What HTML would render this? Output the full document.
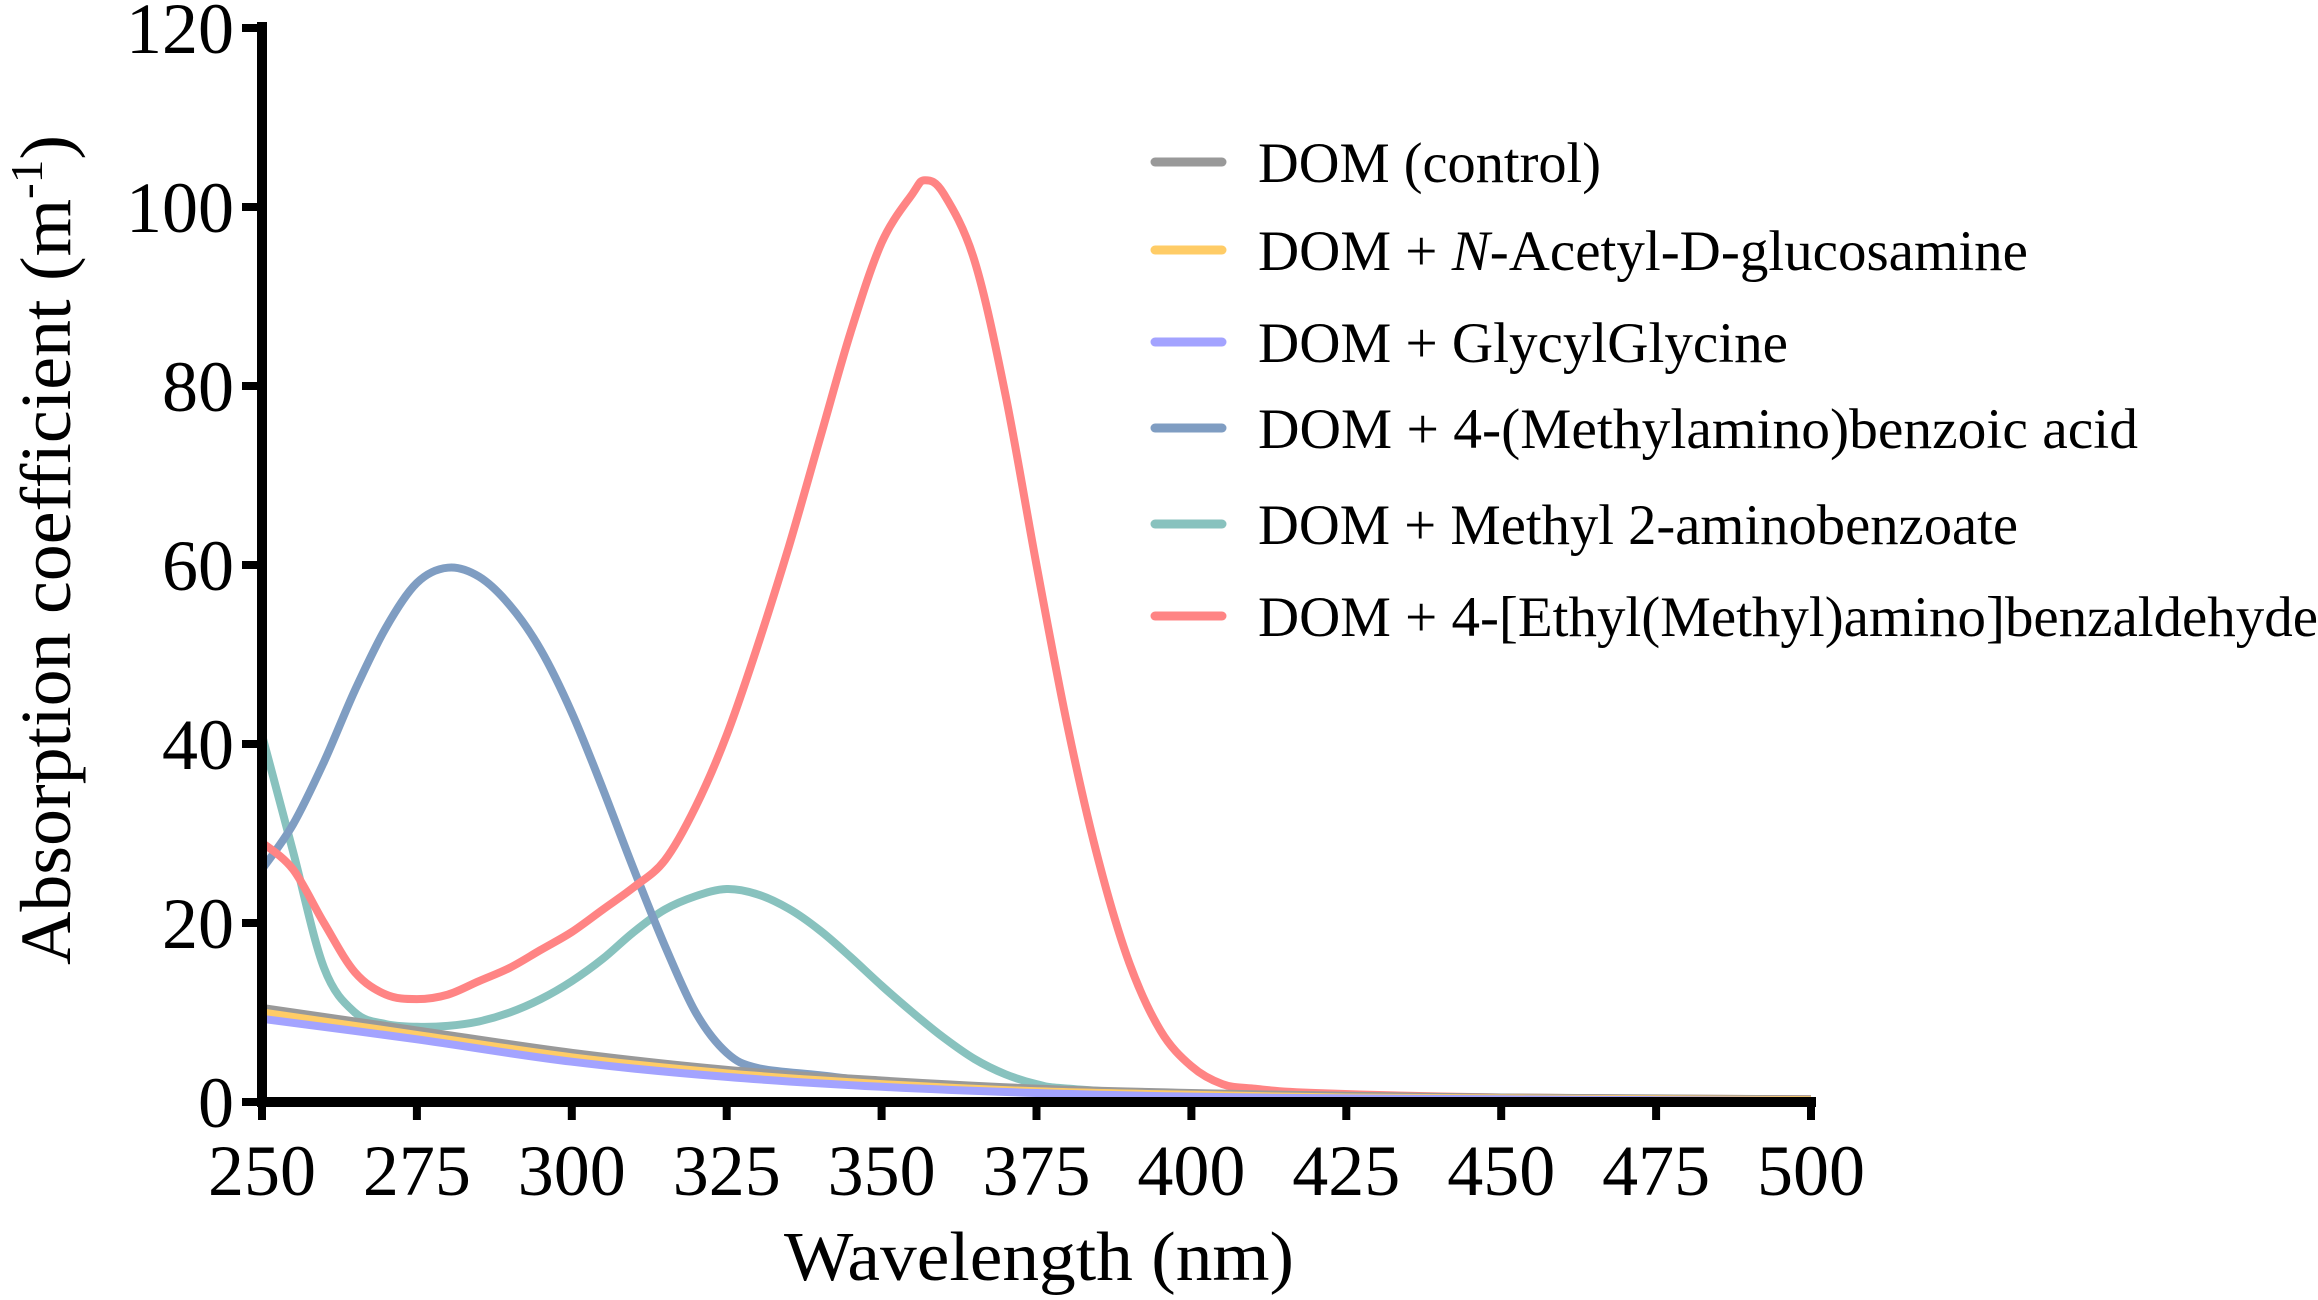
<!DOCTYPE html>
<html><head><meta charset="utf-8"><style>
html,body{margin:0;padding:0;background:#fff;}
svg{display:block;font-family:"Liberation Serif","Times New Roman",serif;}
</style></head><body>
<svg id="chart" width="2318" height="1300" viewBox="0 0 2318 1300" xmlns="http://www.w3.org/2000/svg">
<g id="series"></g>
<g id="axes"></g>
<g id="legend"></g>
</svg>
<script>
const xTicks=[250,275,300,325,350,375,400,425,450,475,500];
const yTicks=[0,20,40,60,80,100,120];
const seriesNames=["DOM (control)","DOM + N-Acetyl-D-glucosamine","DOM + GlycylGlycine","DOM + 4-(Methylamino)benzoic acid","DOM + Methyl 2-aminobenzoate","DOM + 4-[Ethyl(Methyl)amino]benzaldehyde"];
const seriesColors=["#999999","#FFCC66","#A3A3FF","#7F9DC2","#88C2BE","#FF8484"];
const wlControl=[250,275,300,325,350,375,400,425,450,475,500];
const valControl=[10.5,8,5.5,3.6,2.4,1.5,1.0,0.7,0.5,0.4,0.3];
const wlNag=[250,275,300,325,350,375,400,425,450,475,500];
const valNag=[10,7.5,5,3.2,2.0,1.2,0.8,0.5,0.4,0.3,0.2];
const wlGly=[250,275,300,325,350,375,400,425,450,475,500];
const valGly=[9.3,7,4.5,2.8,1.7,1.0,0.6,0.4,0.3,0.2,0.1];
const wlMab=[250,255,260,265,270,275,280,285,290,295,300,305,310,315,320,325,330,340,350,375,400,450,500];
const valMab=[26,31,38,46,53,58,59.7,58.7,55.5,50.5,43.5,35,26,17.5,10,5.5,3.8,3,2.3,1.3,0.8,0.4,0.2];
const wlMaz=[250,255,260,265,270,275,280,285,290,295,300,305,310,315,320,325,330,335,340,345,350,355,360,365,370,375,380,400,450,500];
const valMaz=[41,28,15,10,8.7,8.4,8.5,9,10,11.5,13.5,16,19,21.5,23,23.8,23.2,21.6,19.2,16.2,13,10,7.2,4.8,3.1,2,1.5,0.8,0.4,0.2];
const wlEma=[250,255,260,265,270,275,280,285,290,295,300,305,310,315,320,325,330,335,340,345,350,355,357,360,365,370,375,380,385,390,395,400,405,410,420,450,500];
const valEma=[29,26,20,14.5,12,11.5,12,13.5,15,17,19,21.5,24,27,33,41,51,62,74,86,96,101.5,103,101.5,94,79,60,42,27,15.5,8,4,2,1.5,1,0.5,0.3];
const allWl=[wlControl,wlNag,wlGly,wlMab,wlMaz,wlEma];
const allVal=[valControl,valNag,valGly,valMab,valMaz,valEma];
const seriesKeys=["control","nag","glycylglycine","methylaminobenzoic","methylaminobenzoate","ethylmethylaminobenzaldehyde"];

const X0=262,X1=1811,Y0=1102,Y1=28;
function sx(v){return X0+(v-250)/(500-250)*(X1-X0);}
function sy(v){return Y0-(v/120)*(Y0-Y1);}
const NS="http://www.w3.org/2000/svg";
function mk(tag,parent){const e=document.createElementNS(NS,tag);parent.appendChild(e);return e;}
function smooth(pts){
  let d="M"+pts[0][0].toFixed(1)+","+pts[0][1].toFixed(1);
  for(let i=0;i<pts.length-1;i++){
    const p0=pts[Math.max(0,i-1)],p1=pts[i],p2=pts[i+1],p3=pts[Math.min(pts.length-1,i+2)];
    const c1x=p1[0]+(p2[0]-p0[0])/6,c1y=p1[1]+(p2[1]-p0[1])/6;
    const c2x=p2[0]-(p3[0]-p1[0])/6,c2y=p2[1]-(p3[1]-p1[1])/6;
    d+=" C"+c1x.toFixed(1)+","+c1y.toFixed(1)+" "+c2x.toFixed(1)+","+c2y.toFixed(1)+" "+p2[0].toFixed(1)+","+p2[1].toFixed(1);
  }
  return d;
}
const sg=document.getElementById('series');
const order=[4,3,5,0,1,2];
order.forEach(i=>{
  const pts=allWl[i].map((w,k)=>[sx(w),sy(allVal[i][k])]);
  const p=mk('path',sg);
  p.setAttribute('d',smooth(pts));
  p.setAttribute('fill','none');
  p.setAttribute('stroke',seriesColors[i]);
  p.setAttribute('stroke-width','8');
  p.setAttribute('stroke-linejoin','round');
  
  
});
const ag=document.getElementById('axes');
const yl=mk('line',ag);
yl.setAttribute('x1',X0);yl.setAttribute('x2',X0);yl.setAttribute('y1',Y1-6);yl.setAttribute('y2',Y0+5);
yl.setAttribute('stroke','#000');yl.setAttribute('stroke-width','10');


const xl=mk('line',ag);
xl.setAttribute('x1',X0-5);xl.setAttribute('x2',X1+5);xl.setAttribute('y1',Y0);xl.setAttribute('y2',Y0);
xl.setAttribute('stroke','#000');xl.setAttribute('stroke-width','10');


yTicks.forEach(v=>{
  const t=mk('line',ag);
  t.setAttribute('x1',X0-20);t.setAttribute('x2',X0);t.setAttribute('y1',sy(v));t.setAttribute('y2',sy(v));
  t.setAttribute('stroke','#000');t.setAttribute('stroke-width','8');
  
  
  const l=mk('text',ag);
  l.setAttribute('x',X0-28);l.setAttribute('y',sy(v)+25);l.setAttribute('text-anchor','end');
  l.setAttribute('font-size','72');
  l.textContent=v;
  
  
});
xTicks.forEach(v=>{
  const t=mk('line',ag);
  t.setAttribute('x1',sx(v));t.setAttribute('x2',sx(v));t.setAttribute('y1',Y0);t.setAttribute('y2',Y0+18);
  t.setAttribute('stroke','#000');t.setAttribute('stroke-width','8');
  
  
  const l=mk('text',ag);
  l.setAttribute('x',sx(v));l.setAttribute('y',1195);l.setAttribute('text-anchor','middle');
  l.setAttribute('font-size','72');
  l.textContent=v;
  
  
});
const xt=mk('text',ag);
xt.setAttribute('x',1039);xt.setAttribute('y',1280);xt.setAttribute('text-anchor','middle');
xt.setAttribute('font-size','70');xt.setAttribute('textLength','510');xt.setAttribute('lengthAdjust','spacingAndGlyphs');
xt.textContent='Wavelength (nm)';


const yt=mk('text',ag);
yt.setAttribute('transform','translate(70,550) rotate(-90)');
yt.setAttribute('text-anchor','middle');yt.setAttribute('font-size','72');
yt.setAttribute('textLength','830');yt.setAttribute('lengthAdjust','spacingAndGlyphs');
yt.innerHTML='Absorption coefficient (m<tspan dy="-28" font-size="46">-1</tspan><tspan dy="28">)</tspan>';



const lg=document.getElementById('legend');
const rowY=[162,250,342,428,524,616];
const widths=[343,770,530,880,760,1060];
seriesNames.forEach((n,i)=>{
  const ln=mk('line',lg);
  ln.setAttribute('x1',1155);ln.setAttribute('x2',1222);ln.setAttribute('y1',rowY[i]);ln.setAttribute('y2',rowY[i]);
  ln.setAttribute('stroke',seriesColors[i]);ln.setAttribute('stroke-width','9');ln.setAttribute('stroke-linecap','round');
  
  
  const tx=mk('text',lg);
  tx.setAttribute('x',1258);tx.setAttribute('y',rowY[i]+20);tx.setAttribute('font-size','57');
  tx.setAttribute('textLength',widths[i]);tx.setAttribute('lengthAdjust','spacingAndGlyphs');
  if(i===1){tx.innerHTML='DOM + <tspan font-style="italic">N</tspan>-Acetyl-D-glucosamine';}
  else{tx.textContent=n;}
  
  
});
</script>
</body></html>
